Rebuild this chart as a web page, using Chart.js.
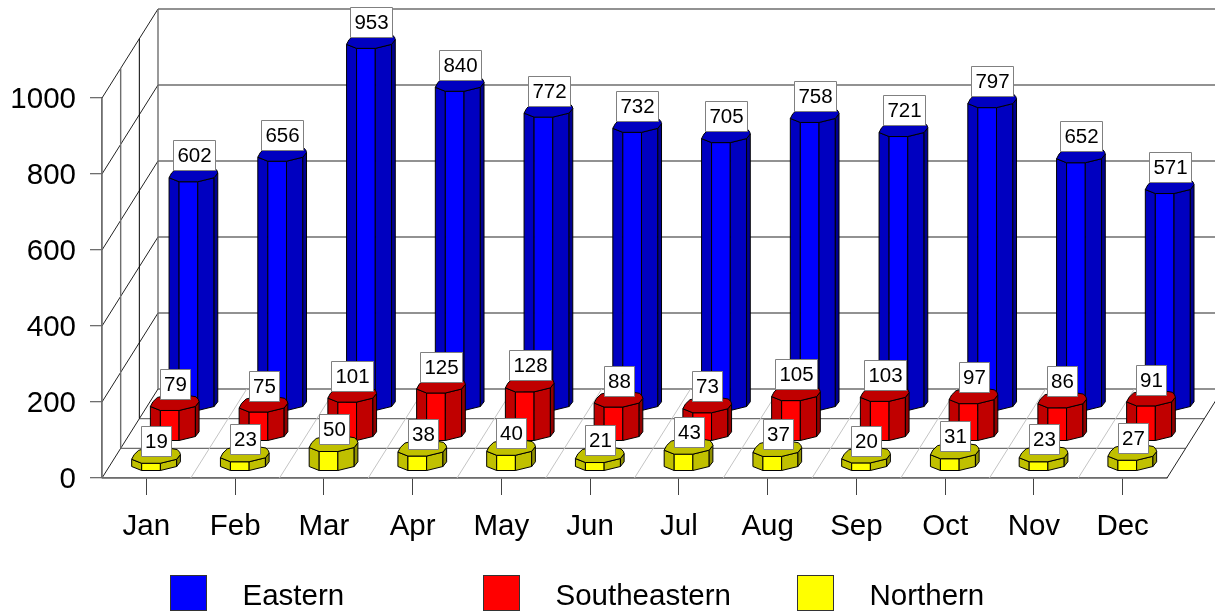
<!DOCTYPE html>
<html><head><meta charset="utf-8">
<style>html,body{margin:0;padding:0;background:#fff}canvas{display:block}</style>
<script src="https://cdn.jsdelivr.net/npm/chart.js@4"></script>
</head><body><canvas id="c" width="1215" height="612"></canvas>
<script>
const categories = ['Jan','Feb','Mar','Apr','May','Jun','Jul','Aug','Sep','Oct','Nov','Dec'];
const eastern = [602,656,953,840,772,732,705,758,721,797,652,571];
const southeastern = [79,75,101,125,128,88,73,105,103,97,86,91];
const northern = [19,23,50,38,40,21,43,37,20,31,23,27];
const seriesNames = ['Eastern','Southeastern','Northern'];
const yTicks = [0,200,400,600,800,1000];

const FONT = '"Liberation Sans", Arial, sans-serif';
const DEPTH_X = 56, DEPTH_Y = 89, ROWS = 3;
const shades = {
  Eastern:      {front:'#0000ff', side:'#0000c0', far:'#000090', top:'#0000c0'},
  Southeastern: {front:'#ff0000', side:'#c00000', far:'#900000', top:'#c00000'},
  Northern:     {front:'#ffff00', side:'#c0c000', far:'#909000', top:'#c0c000'}
};
const rowOf = {Eastern:2, Southeastern:1, Northern:0};
const legendX = [170, 483, 797];

function poly(ctx, pts, fill){
  ctx.beginPath();
  pts.forEach((p,i)=> i?ctx.lineTo(p[0],p[1]):ctx.moveTo(p[0],p[1]));
  ctx.closePath();
  if(fill){ctx.fillStyle=fill;ctx.fill();}
  ctx.stroke();
}
function line(ctx,a,b,c,d,color,w){
  ctx.strokeStyle=color;ctx.lineWidth=w;ctx.beginPath();ctx.moveTo(a,b);ctx.lineTo(c,d);ctx.stroke();
}
function prism(ctx,x,base,top,s){
  const o=[[-10,-4],[0,0],[18.7,0],[35,-4],[38.7,-8.7]];
  const cap=[[-10,-4],[-7.5,-8.7],[-3,-13],[5,-15],[28,-15],[35.6,-13.7],[38,-11],[38.7,-8.7],[35,-4],[18.7,0],[0,0]];
  const P=(i,y)=>[x+o[i][0],y+o[i][1]];
  ctx.strokeStyle='#000';ctx.lineWidth=1;ctx.lineJoin='round';
  poly(ctx,[P(0,base),P(1,base),P(1,top),P(0,top)],s.side);
  poly(ctx,[P(1,base),P(2,base),P(2,top),P(1,top)],s.front);
  poly(ctx,[P(2,base),P(3,base),P(3,top),P(2,top)],s.side);
  poly(ctx,[P(3,base),P(4,base),P(4,top),P(3,top)],s.far);
  poly(ctx,cap.map(c=>[x+c[0],top+c[1]]),s.top);
}
function valueBox(ctx,cx,bottom,text){
  ctx.font='20.5px '+FONT;
  const w=text.length>2?42:30;
  const bx=Math.round(cx-w/2)+.5, by=Math.round(bottom-30)+.5;
  ctx.fillStyle='#fff';ctx.strokeStyle='#808080';ctx.lineWidth=1;
  ctx.fillRect(bx,by,w,30);
  ctx.strokeRect(bx,by,w,30);
  ctx.fillStyle='#000';ctx.textAlign='center';ctx.textBaseline='middle';
  ctx.fillText(text,bx+w/2,by+16);
}
const scene = {
  id:'scene',
  beforeDatasetsDraw(chart){
    const ctx=chart.ctx,y=chart.scales.y;
    const L=chart.chartArea.left,R=chart.chartArea.right,B=y.getPixelForValue(0);
    ctx.save();
    const grid='#6e6e6e';
    yTicks.forEach(v=>{
      const py=y.getPixelForValue(v);
      line(ctx,L+DEPTH_X,py-DEPTH_Y,R+DEPTH_X,py-DEPTH_Y,grid,1.6);
      line(ctx,L,py,L+DEPTH_X,py-DEPTH_Y,'#222',1);
    });
    const T=y.getPixelForValue(yTicks[yTicks.length-1]);
    for(let k=0;k<=ROWS;k++){
      const dx=DEPTH_X*k/ROWS,dy=DEPTH_Y*k/ROWS;
      if(k<ROWS) line(ctx,L+dx,B-dy,R+dx,B-dy,grid,1.3);
      line(ctx,L+dx,B-dy,L+dx,T-dy,k===2?'#000':grid,k===2?1:1.4);
    }
    const step=(R-L)/categories.length;
    for(let i=1;i<categories.length;i++){
      line(ctx,L+i*step,B,L+i*step+DEPTH_X,B-DEPTH_Y,'#c4c4c4',1);
    }
    line(ctx,R,B,R+DEPTH_X,B-DEPTH_Y,'#222',1);
    ctx.restore();
  },
  beforeDatasetDraw(chart,args){
    const ctx=chart.ctx,x=chart.scales.x,y=chart.scales.y;
    const ds=chart.data.datasets[args.index];
    const r=rowOf[ds.label],s=shades[ds.label];
    const zero=y.getPixelForValue(0);
    ctx.save();
    ds.data.forEach((v,i)=>{
      const bx=x.getPixelForValue(i)-4.7+r*18.7;
      const lift=7.5+r*30;
      prism(ctx,bx,zero-lift,y.getPixelForValue(v)-lift,s);
    });
    ds.data.forEach((v,i)=>{
      const bx=x.getPixelForValue(i)-4.7+r*18.7;
      const lift=7.5+r*30;
      valueBox(ctx,bx+14.6,y.getPixelForValue(v)-lift-(r===0?7.3:11.4),String(v));
    });
    ctx.restore();
    return false;
  },
  afterDraw(chart){
    const ctx=chart.ctx;
    ctx.save();
    chart.data.datasets.forEach((ds,i)=>{
      ctx.fillStyle=ds.backgroundColor;ctx.strokeStyle='#333';ctx.lineWidth=1;
      ctx.fillRect(legendX[i]+.5,575.5,36,35);ctx.strokeRect(legendX[i]+.5,575.5,36,35);
      ctx.fillStyle='#000';ctx.font='29.5px '+FONT;ctx.textAlign='left';ctx.textBaseline='middle';
      ctx.fillText(ds.label,legendX[i]+72.5,597);
    });
    ctx.restore();
  }
};
new Chart(document.getElementById('c'),{
  type:'bar',
  data:{labels:categories,datasets:[
    {label:seriesNames[0],data:eastern,backgroundColor:'#0000ff',order:3},
    {label:seriesNames[1],data:southeastern,backgroundColor:'#ff0000',order:2},
    {label:seriesNames[2],data:northern,backgroundColor:'#ffff00',order:1}
  ]},
  plugins:[scene],
  options:{
    responsive:false,animation:false,
    layout:{padding:{top:98,right:48,left:0,bottom:0}},
    plugins:{legend:{display:false},tooltip:{enabled:false}},
    scales:{
      x:{
        afterFit(s){s.height=134;},
        grid:{offset:false,drawOnChartArea:false,tickLength:17,color:'#444',lineWidth:1},
        border:{color:'#6e6e6e',width:1.3},
        ticks:{color:'#000',font:{family:'Liberation Sans',size:29.5},padding:14,maxRotation:0,autoSkip:false}
      },
      y:{
        min:0,max:1000,
        afterFit(s){s.width=102;},
        grid:{drawOnChartArea:false,tickLength:12,color:'#6e6e6e',lineWidth:1.3},
        border:{color:'#6e6e6e',width:1.3},
        afterBuildTicks(s){s.ticks=yTicks.map(v=>({value:v}));},
        ticks:{color:'#000',font:{family:'Liberation Sans',size:29.5},padding:14,labelOffset:2,callback:v=>String(v)}
      }
    }
  }
});
</script></body></html>
